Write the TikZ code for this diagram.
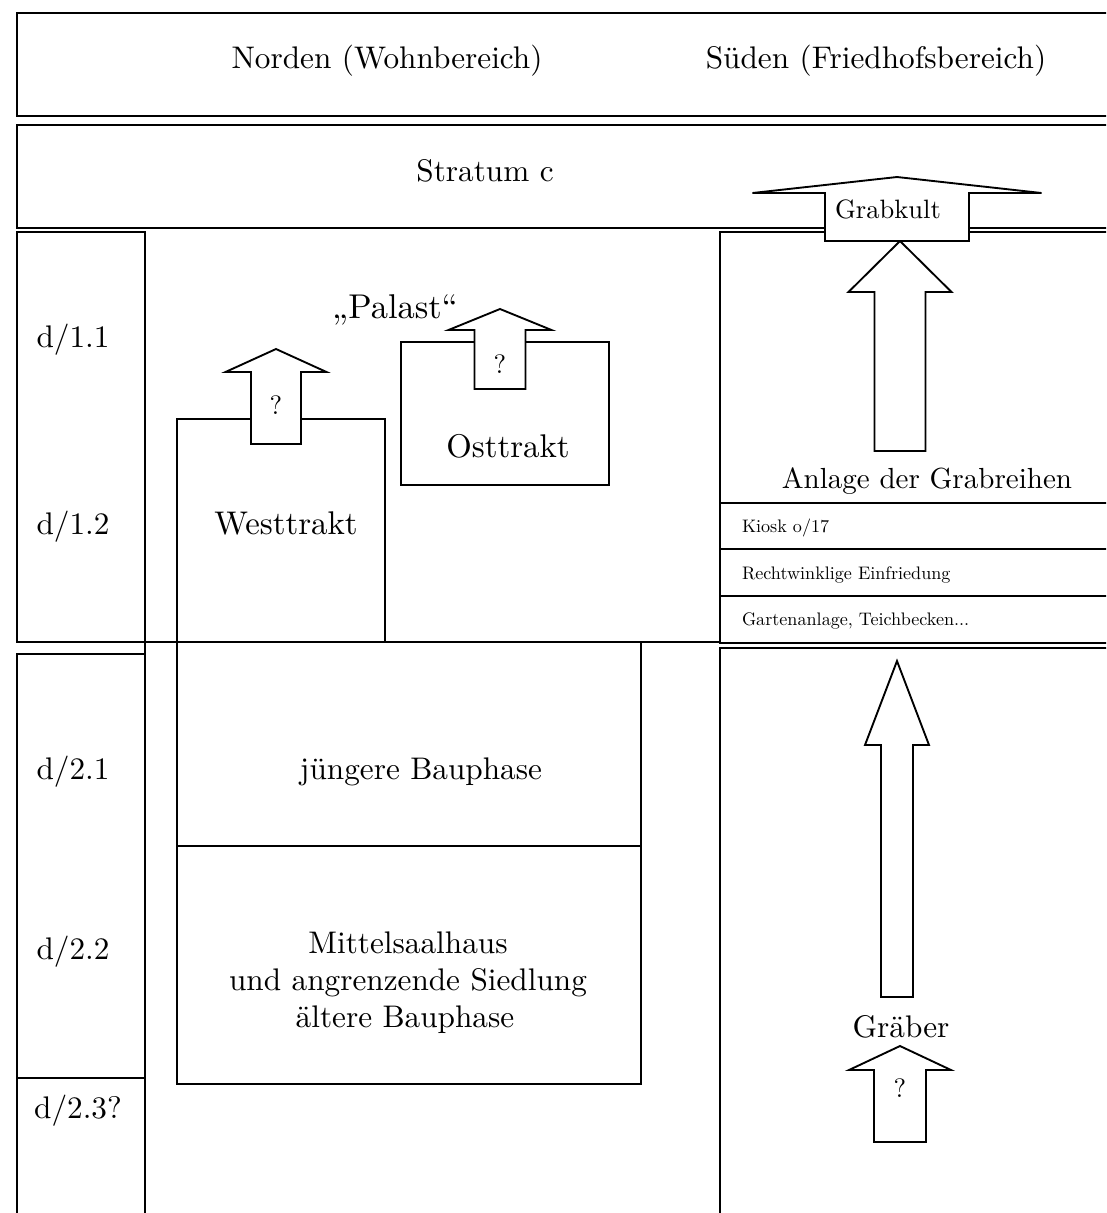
\documentclass[tikz,border=0pt]{standalone}
\usetikzlibrary{positioning}
\tikzset{
	lab/.style={inner sep=0,outer sep=0,anchor=base},
	row lab/.style={lab,anchor=base west,scale=0.58},
	qm/.style={lab,scale=0.85}
}
% block arrow pointing up: centre x, tip y, wing y, half wing, half shaft, foot y
\newcommand{\blockup}[6]{%
	\filldraw[fill=white] ({#1-#5},#6) -- ({#1-#5},#3) -- ({#1-#4},#3) -- (#1,#2)
	-- ({#1+#4},#3) -- ({#1+#5},#3) -- ({#1+#5},#6) -- cycle;}

\begin{document}
\begin{tikzpicture}[x=0.32pt, y=-0.32pt, semithick]
\useasboundingbox (0,0) rectangle (1106,1213);
\clip (0,0) rectangle (1106,1213);
% head rows
\draw (17,13) rectangle (1130,116);
\draw (17,125) rectangle (1130,228);
\node[lab] (nord) at (387,68) {Norden (Wohnbereich)};
\node[lab] (sued) at (876,68) {Süden (Friedhofsbereich)};
\node[lab] (strat) at (485,181) {Stratum c};
% columns
\draw (17,232) rectangle (145,642);
\draw (17,654) rectangle (145,1078);
\draw (17,1078) rectangle (145,1240);
\draw (145,232) -- (145,1240);
\draw (145,642) -- (720,642);
\draw (720,232) rectangle (1130,643);
\draw (720,648) rectangle (1130,1240);
\foreach \y in {503,549,596} \draw (720,\y) -- (1130,\y);
\node[lab] (d11) at (73,347) {d/1.1};
\node[lab] (d12) at (73,534) {d/1.2};
\node[lab] (d21) at (73,779) {d/2.1};
\node[lab] (d22) at (73,959) {d/2.2};
\node[lab] (d23) at (78,1118) {d/2.3?};
% north
\draw (177,419) rectangle (385,642);
\draw (401,342) rectangle (609,485);
\draw (177,642) rectangle (641,846);
\draw (177,846) rectangle (641,1084);
\blockup{276}{349}{372}{50.5}{25}{444}
\blockup{500}{309}{330}{51.5}{25.5}{389}
\node[lab,scale=1.1] (pal) at (395,318) {„Palast“};
\node[qm] (qw) at (276,414) {?};
\node[qm] (qo) at (500,373) {?};
\node[lab,scale=1.05] (west) at (286,534) {Westtrakt};
\node[lab,scale=1.05] (ost) at (508,457) {Osttrakt};
\node[lab] (jung) at (421,779) {jüngere Bauphase};
\node[lab] (mit1) at (408,953) {Mittelsaalhaus};
\node[lab] (mit2) at (408,990) {und angrenzende Siedlung};
\node[lab] (mit3) at (405,1027) {ältere Bauphase};
% south
\blockup{900}{241}{292}{51.5}{25.5}{451}
\blockup{897}{177}{193}{144.5}{72}{241}
\blockup{897}{661}{745}{32}{16}{997}
\blockup{900}{1046}{1070}{51}{26}{1142}
\node[qm] (kult) at (888,218) {Grabkult};
\node[lab,scale=0.93] (anl) at (927,488) {Anlage der Grabreihen};
\node[row lab] (kio) at (742,532) {Kiosk o/17};
\node[row lab] (einf) at (742,579) {Rechtwinklige Einfriedung};
\node[row lab] (gart) at (742,625) {Gartenanlage, Teichbecken...};
\node[lab] (grab) at (901,1037) {Gräber};
\node[qm] (qg) at (900,1097) {?};
\end{tikzpicture}
\end{document}
